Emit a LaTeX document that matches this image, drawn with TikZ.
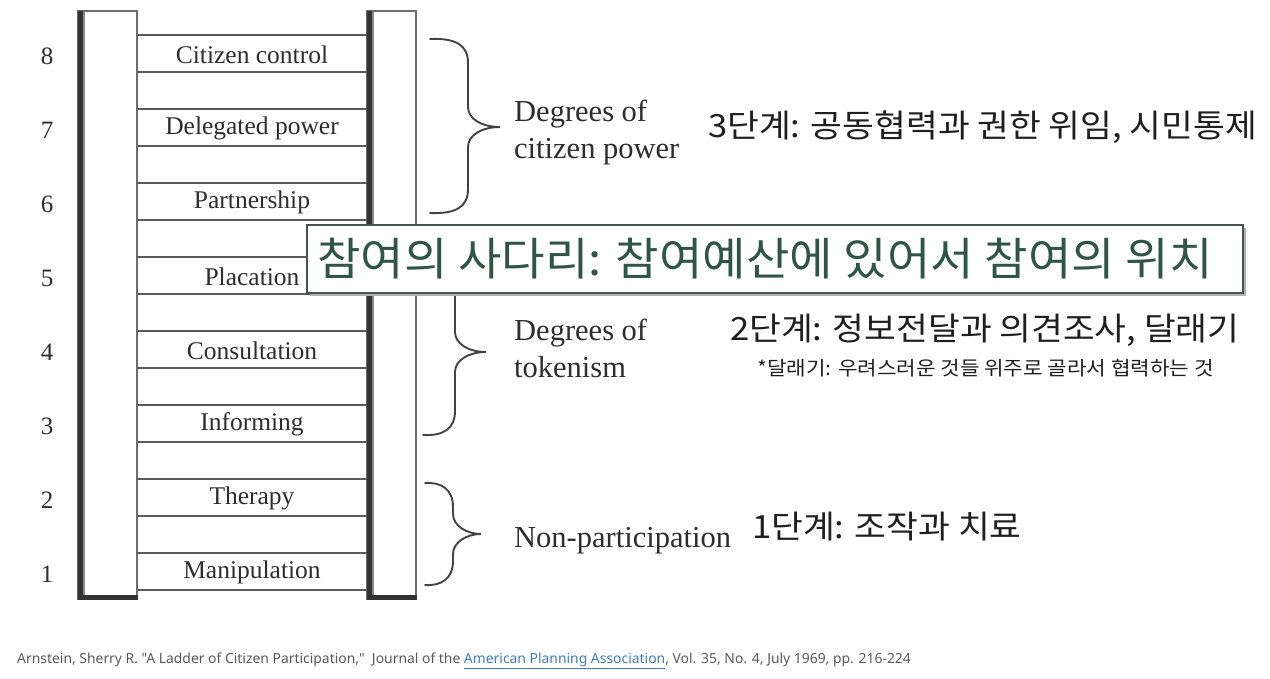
\documentclass[tikz,border=0pt]{standalone}
\usepackage{fontspec}
\usepackage{graphicx}
\setmainfont{Liberation Serif}
\newfontfamily\krfont{Noto Sans CJK KR}
\newfontfamily\reffont{Noto Sans}
\definecolor{ink}{HTML}{2E2E2E}
\definecolor{postdark}{HTML}{333333}
\definecolor{postgray}{HTML}{8A8A8A}
\definecolor{rungcol}{HTML}{5A5A5A}
\definecolor{titlegreen}{HTML}{2F5547}
\definecolor{boxline}{HTML}{46524D}
\definecolor{linkblue}{HTML}{3F7DC0}
\definecolor{refgray}{HTML}{5A5A5A}
\tikzset{
  rung/.style={draw=rungcol, line width=1.6pt},
  rungtext/.style={text=ink, font=\fontsize{25.5}{28}\selectfont, inner sep=0pt},
  numtext/.style={text=ink, font=\fontsize{25}{28}\selectfont, inner sep=0pt},
  bracetext/.style={text=ink, font=\fontsize{30.5}{37}\selectfont, inner sep=0pt, align=left, anchor=west},
  bracepath/.style={draw=ink!90, line width=1.9pt, line cap=round},
  krbig/.style={text=black!88, font=\krfont\fontsize{32}{36}\selectfont, inner sep=0pt, anchor=west},
  krsmall/.style={text=black!88, font=\krfont\fontsize{19.5}{22}\selectfont, inner sep=0pt, anchor=west},
}
\newcommand\ladderbrace[6]{% x0, xv, xt, ytop, ytip, ybot
  \draw[bracepath] (#1,#4) .. controls (#2-12,#4-1) and (#2,#4+6) .. (#2,#4+24)
    -- (#2,#5-20) .. controls (#2,#5-8) and (#2+14,#5) .. (#3,#5)
    .. controls (#2+14,#5) and (#2,#5+8) .. (#2,#5+20)
    -- (#2,#6-24) .. controls (#2,#6-6) and (#2-12,#6+1) .. (#1,#6);
}
\begin{document}
\begin{tikzpicture}[x=1pt,y=-1pt]
\useasboundingbox[fill=white] (0,0) rectangle (1270,678);

% ---- posts ----
\draw[postgray!80!black, line width=1.3pt] (78,11) rectangle (137,599);
\draw[postdark, line width=4.5pt] (80.5,11) -- (80.5,600);
\draw[postgray, line width=2pt] (84,12) -- (84,595);
\draw[postdark, line width=5pt] (78,597.5) -- (137.5,597.5);

\draw[postgray!80!black, line width=1.3pt] (367,11) rectangle (416,599);
\draw[postdark, line width=4.5pt] (369.5,11) -- (369.5,600);
\draw[postgray, line width=2pt] (373,12) -- (373,595);
\draw[postdark, line width=5pt] (367,597.5) -- (416.5,597.5);

% ---- rungs, labels, numbers ----
\foreach \k/\lab in {8/Citizen control,7/Delegated power,6/Partnership,5/Placation,4/Consultation,3/Informing,2/Therapy,1/Manipulation}{
  \pgfmathsetmacro\top{35+(8-\k)*74}
  \draw[rung] (137,\top) -- (367,\top);
  \draw[rung] (137,\top+37) -- (367,\top+37);
  \node[rungtext] (r\k) at (252,\top+19.5) {\lab};
  \node[numtext] (n\k) at (47,\top+21.5) {\k};
}

% ---- braces ----
\ladderbrace{430}{468}{500}{39}{127}{213}
\ladderbrace{423}{455}{486}{269}{352}{435}
\ladderbrace{425}{453}{481}{483}{534}{585}

\node[bracetext] (b1) at (514,133) {Degrees of\\citizen power};
\node[bracetext] (b2) at (514,348.5) {Degrees of\\tokenism};
\node[bracetext] (b3) at (514,541) {Non-participation};

% ---- Korean annotations ----
\node[krbig] (k3) at (708,127) {\scalebox{1.08}[1]{3단계: 공동협력과 권한 위임, 시민통제}};
\node[krbig] (k2) at (730,330) {\scalebox{1.08}[1]{2단계: 정보전달과 의견조사, 달래기}};
\node[krsmall] (k2s) at (757,368) {\scalebox{1.09}[1]{*달래기: 우려스러운 것들 위주로 골라서 협력하는 것}};
\node[krbig] (k1) at (752,527) {\scalebox{1.08}[1]{1단계: 조작과 치료}};

% ---- title box ----
\fill[black!30] (310,228) rectangle (1246,296);
\draw[boxline, line width=1.6pt, fill=white] (307,225) rectangle (1243,293);
\node[text=titlegreen, font=\krfont\fontsize{45}{48}\selectfont, inner sep=0pt, anchor=west] (title) at (317,259) {\scalebox{1.05}[1]{참여의 사다리: 참여예산에 있어서 참여의 위치}};

% ---- citation ----
\node[text=refgray, font=\reffont\fontsize{13.9}{15}\selectfont, inner sep=0pt, anchor=west] (cite) at (17,661)
  {Arnstein, Sherry R. "A Ladder of Citizen Participation,"\ \ Journal of the \textcolor{linkblue}{\underline{American Planning Association}}, Vol. 35, No. 4, July 1969, pp. 216-224};
\end{tikzpicture}
\end{document}
